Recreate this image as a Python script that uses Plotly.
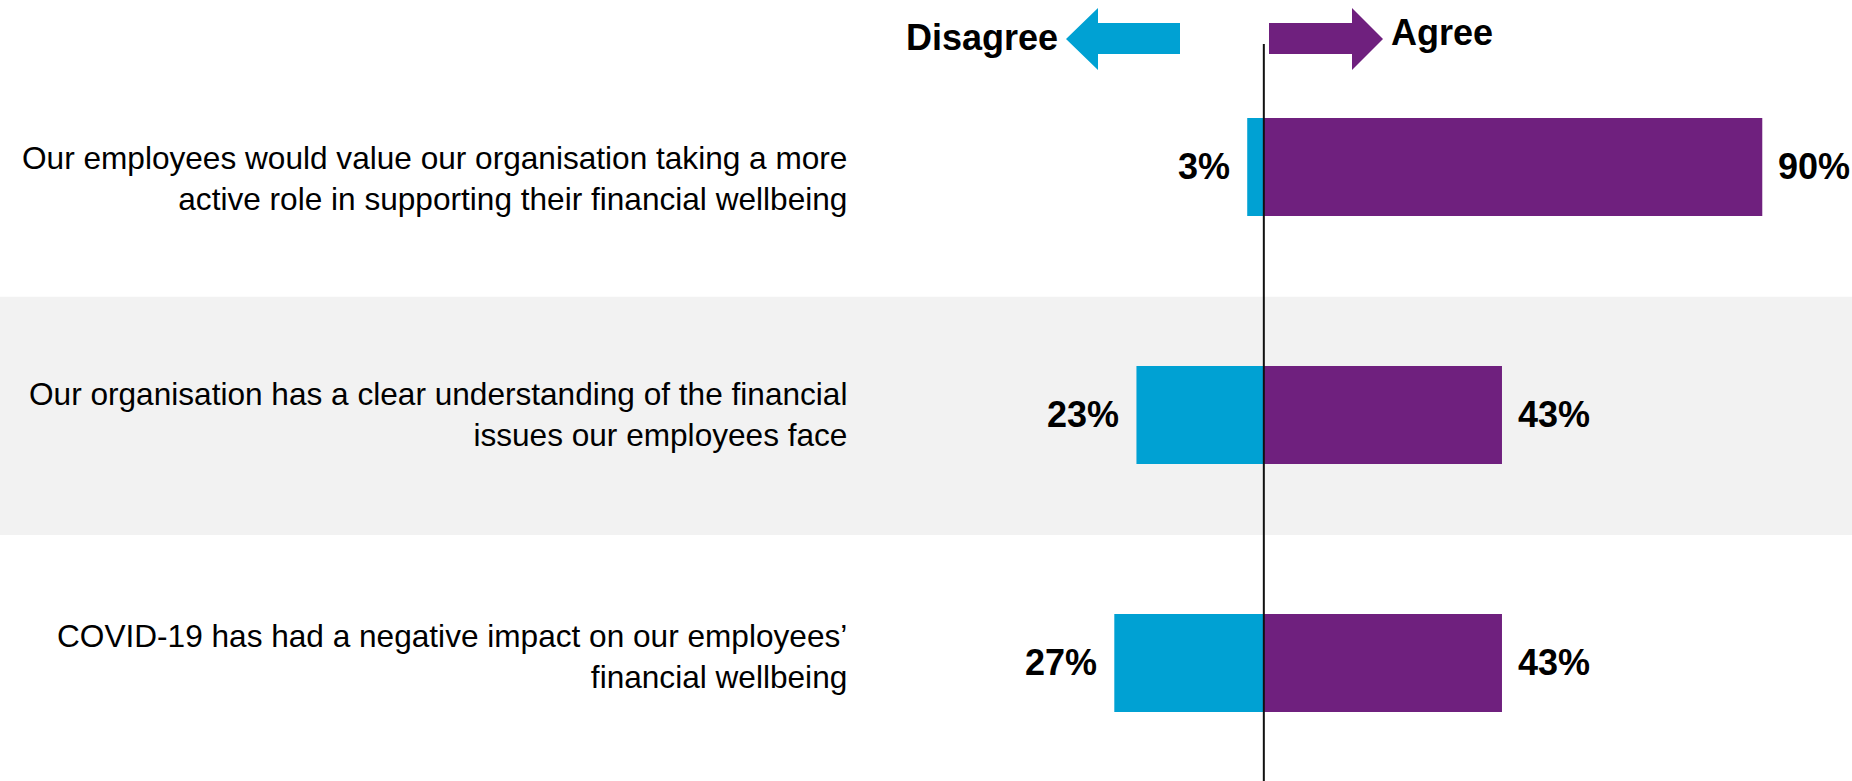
import plotly.graph_objects as go

# Survey statements (top to bottom) and share of respondents
statements = [
    "Our employees would value our organisation taking a more<br>active role in supporting their financial wellbeing",
    "Our organisation has a clear understanding of the financial<br>issues our employees face",
    "COVID-19 has had a negative impact on our employees’<br>financial wellbeing",
]
disagree = [3, 23, 27]
agree = [90, 43, 43]

BLUE = "#00A1D3"
PURPLE = "#6F207E"
BAND = "#F2F2F2"
FONT = "Arial, Liberation Sans, sans-serif"

W, H = 1852, 781
rows = list(range(len(statements)))

# pixel helpers for the decorative header (paper coordinates)
def px(x):
    return x / W

def py(y):
    return 1 - y / H

fig = go.Figure()

fig.add_trace(go.Bar(
    y=rows, x=[-v for v in disagree], orientation="h",
    marker=dict(color=BLUE, line=dict(width=0)), width=0.395,
    name="Disagree", showlegend=False, hoverinfo="skip",
))
fig.add_trace(go.Bar(
    y=rows, x=agree, orientation="h",
    marker=dict(color=PURPLE, line=dict(width=0)), width=0.395,
    name="Agree", showlegend=False, hoverinfo="skip",
))

shapes = []
# shaded band behind the middle statement
shapes.append(dict(type="rect", xref="paper", yref="y", x0=0, x1=1, y0=0.524, y1=1.484,
                   fillcolor=BAND, line=dict(width=0), layer="below"))
# zero divider
shapes.append(dict(type="line", xref="x", yref="y", x0=0, x1=0, y0=-0.496, y1=2.48,
                   line=dict(color="#111111", width=2), layer="above"))

# header arrows
def arrow_path(tip, base, tail, top, bot, s_top, s_bot, mid):
    return (f"M {px(tip)} {py(mid)} L {px(base)} {py(top)} L {px(base)} {py(s_top)} "
            f"L {px(tail)} {py(s_top)} L {px(tail)} {py(s_bot)} L {px(base)} {py(s_bot)} "
            f"L {px(base)} {py(bot)} Z")

shapes.append(dict(type="path", xref="paper", yref="paper",
                   path=arrow_path(1066, 1098, 1180, 8, 70, 23, 54, 39),
                   fillcolor=BLUE, line=dict(width=0)))
shapes.append(dict(type="path", xref="paper", yref="paper",
                   path=arrow_path(1383, 1352, 1269, 8, 70, 23, 54, 39),
                   fillcolor=PURPLE, line=dict(width=0)))

annotations = []
annotations.append(dict(xref="paper", yref="paper", x=px(1060), y=py(38), text="<b>Disagree</b>",
                        showarrow=False, xanchor="right", yanchor="middle",
                        font=dict(family=FONT, size=36, color="black")))
annotations.append(dict(xref="paper", yref="paper", x=px(1389), y=py(33), text="<b>Agree</b>",
                        showarrow=False, xanchor="left", yanchor="middle",
                        font=dict(family=FONT, size=36, color="black")))

label_shift = [-12, 0, 6]
for i, s in enumerate(statements):
    annotations.append(dict(xref="paper", yref="y", x=px(849), y=i, yshift=label_shift[i],
                            text=s, showarrow=False, xanchor="right", yanchor="middle",
                            align="right", font=dict(family=FONT, size=31.6, color="black")))

for i in rows:
    annotations.append(dict(xref="x", yref="y", x=-disagree[i], y=i, xshift=-15,
                            text=f"<b>{disagree[i]}%</b>", showarrow=False,
                            xanchor="right", yanchor="middle",
                            font=dict(family=FONT, size=36, color="black")))
    annotations.append(dict(xref="x", yref="y", x=agree[i], y=i, xshift=14,
                            text=f"<b>{agree[i]}%</b>", showarrow=False,
                            xanchor="left", yanchor="middle",
                            font=dict(family=FONT, size=36, color="black")))

fig.update_layout(
    width=W, height=H,
    margin=dict(l=0, r=0, t=0, b=0),
    paper_bgcolor="white", plot_bgcolor="rgba(0,0,0,0)",
    barmode="relative",
    shapes=shapes, annotations=annotations,
    xaxis=dict(range=[-228.2, 106.2], visible=False, fixedrange=True),
    yaxis=dict(range=[2.476, -0.673], visible=False, fixedrange=True),
    font=dict(family=FONT),
)

fig.write_html("out.html", config={"displayModeBar": False})
